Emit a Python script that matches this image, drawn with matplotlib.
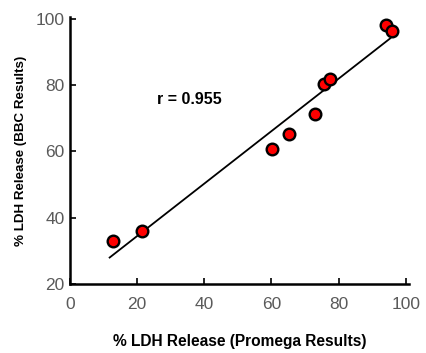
import numpy as np
import matplotlib
matplotlib.use("Agg")
import matplotlib.pyplot as plt

# data
promega = [12.7, 21.3, 60.3, 65.2, 72.9, 75.7, 77.3, 94.2, 95.9]
bbc = [33.0, 35.9, 60.8, 65.1, 71.4, 80.3, 81.8, 98.2, 96.4]
fit_range = [11.8, 95.4]
r_text = "r = 0.955"
xticks = [0, 20, 40, 60, 80, 100]
yticks = [20, 40, 60, 80, 100]

plt.rcParams['font.family'] = ['Liberation Sans', 'DejaVu Sans']

fig = plt.figure(figsize=(4.27, 3.53), dpi=100)
ax = fig.add_axes([0.164, 0.195, 0.794, 0.757])

# regression line
slope, intercept = np.polyfit(promega, bbc, 1)
fx = np.array(fit_range)
ax.plot(fx, slope * fx + intercept, color='black', lw=1.3, zorder=2)

ax.scatter(promega, bbc, s=70, c='#ff0000', edgecolors='black', linewidths=1.7, zorder=3)

ax.text(35.5, 75.5, r_text, fontsize=11.5, fontweight='bold', ha='center', va='center')

ax.set_xlim(0, 101)
ax.set_ylim(20, 100.5)
ax.set_xticks(xticks)
ax.set_yticks(yticks)
ax.tick_params(direction='in', length=4, width=1.2, colors='black', labelcolor='#5a5a5a',
               labelsize=12.5)
ax.tick_params(axis='x', pad=9)
ax.tick_params(axis='y', pad=4)
for s in ['top', 'right']:
    ax.spines[s].set_visible(False)
for s in ['left', 'bottom']:
    ax.spines[s].set_linewidth(1.8)

ax.set_xlabel("% LDH Release (Promega Results)", fontsize=11.2, fontweight='bold', labelpad=16)
ax.set_ylabel("% LDH Release (BBC Results)", fontsize=9.6, fontweight='bold', labelpad=6)

fig.savefig("out.png", dpi=100)
